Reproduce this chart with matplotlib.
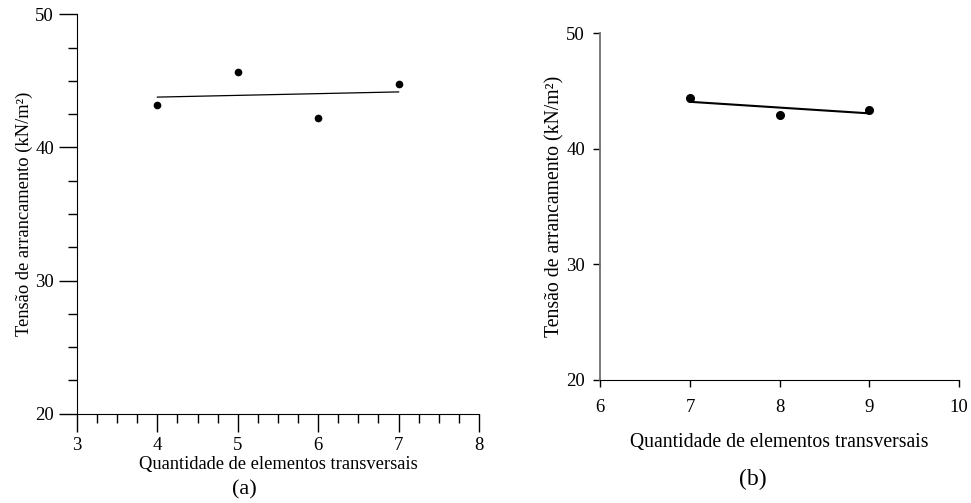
import numpy as np
import matplotlib
matplotlib.use("Agg")
import matplotlib.pyplot as plt
from matplotlib.ticker import MultipleLocator

plt.rcParams["font.family"] = ["Liberation Serif", "DejaVu Serif"]

# painel (a)
x_a = [4, 5, 6, 7]
y_a = [43.2, 45.7, 42.2, 44.8]
# painel (b)
x_b = [7, 8, 9]
y_b = [44.4, 42.9, 43.4]

ylabel = "Tensão de arrancamento (kN/m²)"
xlabel = "Quantidade de elementos transversais"

fig = plt.figure(figsize=(9.71, 5.03), dpi=100)
ax1 = fig.add_axes([0.0793, 0.1775, 0.414, 0.7941])
ax2 = fig.add_axes([0.6182, 0.2451, 0.3694, 0.6887])

for ax in (ax1, ax2):
    ax.spines["top"].set_visible(False)
    ax.spines["right"].set_visible(False)
    ax.set_ylim(20, 50)
    ax.yaxis.set_major_locator(MultipleLocator(10))
    ax.tick_params(direction="out", labelsize=13.5)

# (a)
ax1.plot(x_a, y_a, "o", color="black", ms=4.5)
p = np.polyfit(x_a, y_a, 1)
xx = np.array([min(x_a), max(x_a)])
ax1.plot(xx, np.polyval(p, xx), color="black", lw=0.9)
ax1.set_xlim(3, 8)
ax1.xaxis.set_major_locator(MultipleLocator(1))
ax1.xaxis.set_minor_locator(MultipleLocator(0.25))
ax1.yaxis.set_minor_locator(MultipleLocator(2.5))
ax1.tick_params(which="major", length=13, width=1)
ax1.tick_params(axis="x", which="major", pad=4)
ax1.tick_params(which="minor", length=6.5, width=1)
ax1.set_ylabel(ylabel, fontsize=13.3, labelpad=2)
ax1.set_xlabel(xlabel, fontsize=13.3, labelpad=1)
fig.text(0.252, 0.026, "(a)", fontsize=16, ha="center", va="center")

# (b)
ax2.plot(x_b, y_b, "o", color="black", ms=5.5)
p = np.polyfit(x_b, y_b, 1)
xx = np.array([min(x_b), max(x_b)])
ax2.plot(xx, np.polyval(p, xx), color="black", lw=1.5)
ax2.set_xlim(6, 10)
ax2.xaxis.set_major_locator(MultipleLocator(1))
ax2.spines["left"].set_color("#707070")
ax2.spines["left"].set_linewidth(1.3)
ax2.tick_params(length=5, width=1)
ax2.tick_params(axis="x", pad=9)
ax2.tick_params(axis="y", pad=6)
ax2.set_ylabel(ylabel, fontsize=14.2, labelpad=1)
ax2.set_xlabel(xlabel, fontsize=14.2, labelpad=12)
fig.text(0.775, 0.046, "(b)", fontsize=17, ha="center", va="center")

fig.savefig("out.png", dpi=100)
